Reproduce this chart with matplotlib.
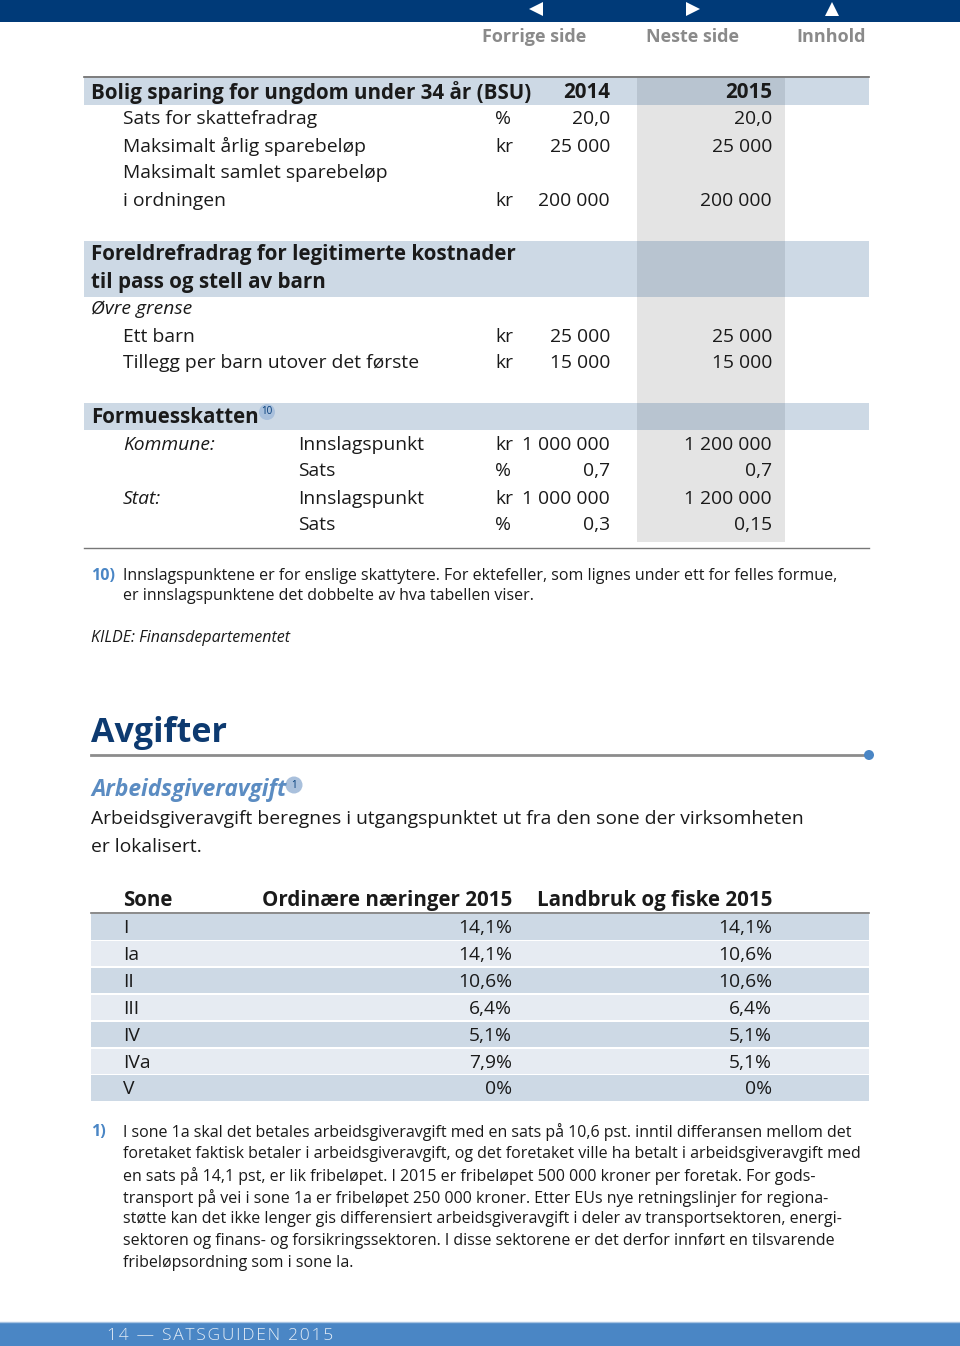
import matplotlib
matplotlib.use("Agg")
import matplotlib.pyplot as plt
from matplotlib.patches import Rectangle, Circle, Polygon

plt.rcParams['font.family'] = ['Open Sans', 'DejaVu Sans']

# ---- data ----
bsu_title = "Bolig sparing for ungdom under 34 år (BSU)"
years = ["2014", "2015"]
bsu_labels = ["Sats for skattefradrag", "Maksimalt årlig sparebeløp",
              "Maksimalt samlet sparebeløp", "i ordningen"]
bsu_units = ["%", "kr", "", "kr"]
bsu_2014 = ["20,0", "25 000", "", "200 000"]
bsu_2015 = ["20,0", "25 000", "", "200 000"]

fore_title = ["Foreldrefradrag for legitimerte kostnader", "til pass og stell av barn"]
fore_sub = "Øvre grense"
fore_labels = ["Ett barn", "Tillegg per barn utover det første"]
fore_units = ["kr", "kr"]
fore_2014 = ["25 000", "15 000"]
fore_2015 = ["25 000", "15 000"]

form_title = "Formuesskatten"
form_group = ["Kommune:", "", "Stat:", ""]
form_labels = ["Innslagspunkt", "Sats", "Innslagspunkt", "Sats"]
form_units = ["kr", "%", "kr", "%"]
form_2014 = ["1 000 000", "0,7", "1 000 000", "0,3"]
form_2015 = ["1 200 000", "0,7", "1 200 000", "0,15"]

note10 = ["Innslagspunktene er for enslige skattytere. For ektefeller, som lignes under ett for felles formue,",
          "er innslagspunktene det dobbelte av hva tabellen viser."]
source = "KILDE: Finansdepartementet"

intro = ["Arbeidsgiveravgift beregnes i utgangspunktet ut fra den sone der virksomheten",
         "er lokalisert."]
sone_cols = ["Sone", "Ordinære næringer 2015", "Landbruk og fiske 2015"]
soner = ["I", "Ia", "II", "III", "IV", "IVa", "V"]
ordinaere = ["14,1%", "14,1%", "10,6%", "6,4%", "5,1%", "7,9%", "0%"]
landbruk = ["14,1%", "10,6%", "10,6%", "6,4%", "5,1%", "5,1%", "0%"]

note1 = ["I sone 1a skal det betales arbeidsgiveravgift med en sats på 10,6 pst. inntil differansen mellom det",
         "foretaket faktisk betaler i arbeidsgiveravgift, og det foretaket ville ha betalt i arbeidsgiveravgift med",
         "en sats på 14,1 pst, er lik fribeløpet. I 2015 er fribeløpet 500 000 kroner per foretak. For gods-",
         "transport på vei i sone 1a er fribeløpet 250 000 kroner. Etter EUs nye retningslinjer for regiona-",
         "støtte kan det ikke lenger gis differensiert arbeidsgiveravgift i deler av transportsektoren, energi-",
         "sektoren og finans- og forsikringssektoren. I disse sektorene er det derfor innført en tilsvarende",
         "fribeløpsordning som i sone Ia."]

nav = ["Forrige side", "Neste side", "Innhold"]
footer = "14 — SATSGUIDEN 2015"

# ---- colours ----
DARK = "#003a78"
MID = "#4a86c5"
BAND = "#cdd9e5"
BAND_DARK = "#b8c4d0"
GREY_COL = "#e4e4e4"
ROW_A = "#cdd9e5"
ROW_B = "#e6ebf2"
TXT = "#1a1a1a"

fig = plt.figure(figsize=(9.6, 13.46), dpi=100)
ax = fig.add_axes([0, 0, 1, 1])
ax.set_xlim(0, 960)
ax.set_ylim(1346, 0)
ax.axis('off')

FS = 13.9       # body
FS_B = 14.8     # bold headings in tables
FS_NOTE = 11.5


def rect(x, y, w, h, c):
    ax.add_patch(Rectangle((x, y), w, h, facecolor=c, edgecolor='none', zorder=1))


def txt(x, y, s, **kw):
    kw.setdefault('fontsize', FS)
    kw.setdefault('color', TXT)
    ax.text(x, y + 1.5, s, va='center', zorder=3, **kw)


def badge(x, y, s, r=8):
    ax.add_patch(Circle((x, y), r, facecolor="#a9c0dc", edgecolor='none', zorder=2))
    ax.text(x, y, s, fontsize=7, color=DARK, ha='center', va='center', zorder=3)


# top bar + navigation
rect(0, 0, 960, 22, DARK)
nav_x = [534, 692, 831]
ax.add_patch(Polygon([(543, 2), (543, 16), (529, 9)], facecolor='white', zorder=3))
ax.add_patch(Polygon([(686, 2), (686, 16), (700, 9)], facecolor='white', zorder=3))
ax.add_patch(Polygon([(825, 16), (839, 16), (832, 2)], facecolor='white', zorder=3))
for x, s in zip(nav_x, nav):
    txt(x, 35, s, ha='center', color="#8a8a8a", fontweight='bold', fontsize=13)

# ---- first table ----
x0, x1 = 84, 869
cx0, cx1 = 637, 785
ux, v14, v15 = 495, 610, 772
ax.plot([x0, x1], [77, 77], color="#666666", lw=1.2, zorder=2)
rect(cx0, 78, cx1 - cx0, 464, GREY_COL)
for (ya, yb) in [(78, 105), (241, 297), (403, 430)]:
    rect(x0, ya, x1 - x0, yb - ya, BAND)
    rect(cx0, ya, cx1 - cx0, yb - ya, BAND_DARK)
ax.plot([x0, x1], [548, 548], color="#777777", lw=1.0, zorder=2)

txt(91, 91, bsu_title, fontweight='bold', fontsize=FS_B)
txt(v14, 91, years[0], fontweight='bold', ha='right', fontsize=FS_B)
txt(v15, 91, years[1], fontweight='bold', ha='right', fontsize=FS_B)
for i, y in enumerate([118, 145, 172, 199]):
    txt(123, y, bsu_labels[i])
    txt(ux, y, bsu_units[i])
    txt(v14, y, bsu_2014[i], ha='right')
    txt(v15, y, bsu_2015[i], ha='right')

txt(91, 253, fore_title[0], fontweight='bold', fontsize=FS_B)
txt(91, 281, fore_title[1], fontweight='bold', fontsize=FS_B)
txt(91, 308, fore_sub, style='italic')
for i, y in enumerate([335, 362]):
    txt(123, y, fore_labels[i])
    txt(ux, y, fore_units[i])
    txt(v14, y, fore_2014[i], ha='right')
    txt(v15, y, fore_2015[i], ha='right')

txt(91, 416, form_title, fontweight='bold', fontsize=FS_B)
badge(267, 412, "10")
for i, y in enumerate([443, 470, 497, 524]):
    txt(123, y, form_group[i], style='italic')
    txt(298, y, form_labels[i])
    txt(ux, y, form_units[i])
    txt(v14, y, form_2014[i], ha='right')
    txt(v15, y, form_2015[i], ha='right')

txt(91, 574, "10)", color=MID, fontweight='bold', fontsize=FS_NOTE)
for i, s in enumerate(note10):
    txt(123, 574 + 21 * i, s, fontsize=FS_NOTE)
txt(91, 637, source, style='italic', fontsize=FS_NOTE)

# ---- Avgifter ----
txt(91, 731, "Avgifter", fontweight='bold', fontsize=24.5, color="#0d3a70")
ax.plot([91, 866], [755, 755], color="#8c8c8c", lw=2, zorder=2)
ax.add_patch(Circle((869, 755), 5, facecolor=MID, edgecolor='none', zorder=3))
txt(91, 789, "Arbeidsgiveravgift", fontweight='bold', style='italic', fontsize=16.4, color="#5b8cc2")
badge(294, 785, "1", r=8.5)
for i, s in enumerate(intro):
    txt(91, 818 + 27 * i, s, fontsize=FS)

# zone table
txt(123, 899, sone_cols[0], fontweight='bold', fontsize=FS_B)
txt(512, 899, sone_cols[1], fontweight='bold', fontsize=FS_B, ha='right')
txt(772, 899, sone_cols[2], fontweight='bold', fontsize=FS_B, ha='right')
ax.plot([91, 869], [913, 913], color="#777777", lw=1.2, zorder=2)
for i, s in enumerate(soner):
    yc = 926.5 + 26.9 * i
    rect(91, yc - 12.5, 778, 25.5, ROW_A if i % 2 == 0 else ROW_B)
    txt(123, yc, s)
    txt(512, yc, ordinaere[i], ha='right')
    txt(772, yc, landbruk[i], ha='right')

txt(91, 1131, "1)", color=MID, fontweight='bold', fontsize=FS_NOTE)
for i, s in enumerate(note1):
    txt(123, 1131 + 21.7 * i, s, fontsize=FS_NOTE)

# bottom bar
rect(0, 1322, 960, 24, MID)
ax.plot([0, 960], [1322, 1322], color="#a9c4e2", lw=1, zorder=2)
txt(107, 1334, "\u200a".join(footer), color="#e3ecf6", fontsize=12.5, fontweight='light')

fig.savefig("out.png", dpi=100)
